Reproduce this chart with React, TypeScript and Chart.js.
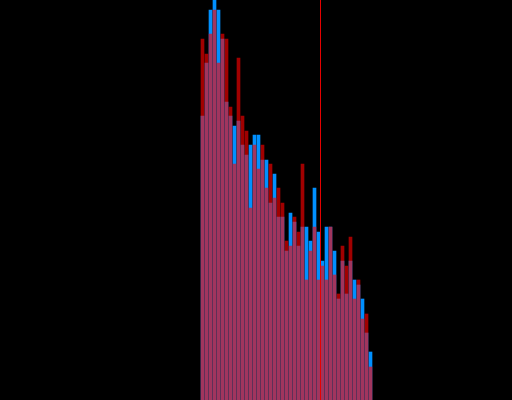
import React, { useEffect, useRef } from "react";
import { Chart, registerables } from "chart.js";

Chart.register(...registerables);

// bin centres (bins of width 1 starting at 0)
const binCenters = Array.from({ length: 43 }, (_, i) => i + 0.5);

const redValues = [
  361, 346, 366, 390, 337, 366, 361, 293, 236, 342,
  284, 269, 192, 255, 231, 255, 212, 236, 202, 212,
  197, 159, 154, 183, 168, 236, 120, 149, 173, 120,
  134, 120, 173, 125, 106, 154, 134, 163, 101, 120,
  81, 86, 33,
];

const blueValues = [
  284, 337, 390, 400, 390, 361, 298, 284, 274, 279,
  255, 245, 255, 265, 265, 240, 240, 197, 226, 183,
  183, 149, 187, 178, 154, 173, 173, 159, 212, 168,
  139, 173, 173, 149, 101, 139, 106, 139, 120, 115,
  101, 67, 48,
];

const markerX = 30;

const xMin = -50.125;
const xMax = 77.875;
const yMax = 400;

export default function App() {
  const ref = useRef<HTMLCanvasElement | null>(null);

  useEffect(() => {
    document.body.style.margin = "0";
    document.body.style.background = "#000";
    const canvas = ref.current;
    if (!canvas) return;

    const bgPlugin = {
      id: "bg",
      beforeDraw(chart: any) {
        const ctx = chart.ctx;
        ctx.save();
        ctx.fillStyle = "#000";
        ctx.fillRect(0, 0, chart.width, chart.height);
        ctx.restore();
      },
    };

    const linePlugin = {
      id: "marker",
      afterDatasetsDraw(chart: any) {
        const ctx = chart.ctx;
        const x = Math.floor(chart.scales.x.getPixelForValue(markerX)) + 0.5;
        ctx.save();
        ctx.strokeStyle = "rgb(230,0,0)";
        ctx.lineWidth = 1;
        ctx.beginPath();
        ctx.moveTo(x, chart.chartArea.top);
        ctx.lineTo(x, chart.chartArea.bottom);
        ctx.stroke();
        ctx.restore();
      },
    };

    const chart = new Chart(canvas, {
      type: "bar",
      data: {
        datasets: [
          {
            label: "red",
            data: binCenters.map((x, i) => ({ x, y: redValues[i] })),
            backgroundColor: "rgba(255,0,0,0.63)",
            borderWidth: 0,
            barThickness: 3,
            maxBarThickness: 3,
            grouped: false,
          } as any,
          {
            label: "blue",
            data: binCenters.map((x, i) => ({ x, y: blueValues[i] })),
            backgroundColor: "rgb(0,144,255)",
            borderWidth: 0,
            barThickness: 3,
            maxBarThickness: 3,
            grouped: false,
          } as any,
        ],
      },
      options: {
        animation: false,
        responsive: false,
        maintainAspectRatio: false,
        layout: { padding: 0 },
        plugins: { legend: { display: false }, tooltip: { enabled: false } },
        scales: {
          x: { type: "linear", min: xMin, max: xMax, display: false, offset: false },
          y: { min: 0, max: yMax, display: false },
        },
      },
      plugins: [bgPlugin, linePlugin],
    });

    return () => chart.destroy();
  }, []);

  return <canvas ref={ref} width={512} height={400} style={{ display: "block" }} />;
}
